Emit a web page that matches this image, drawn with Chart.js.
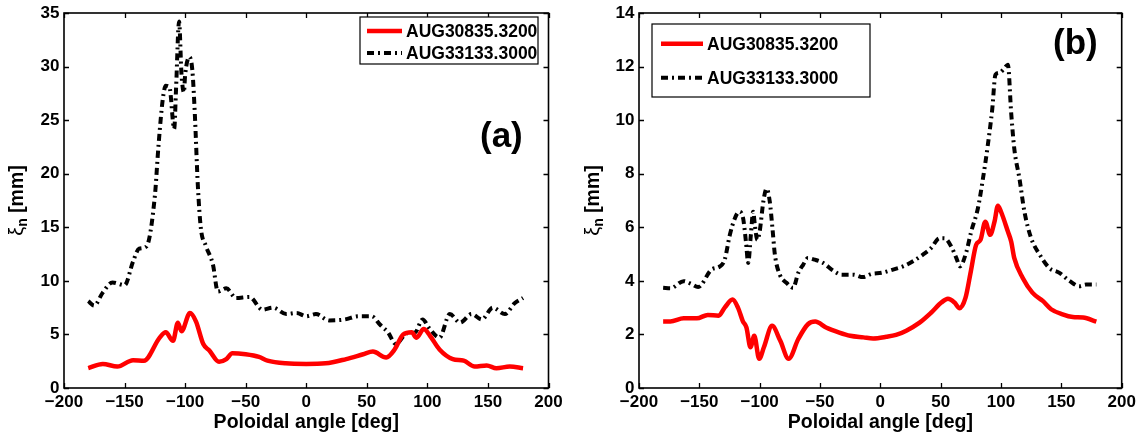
<!DOCTYPE html>
<html>
<head>
<meta charset="utf-8">
<script src="https://cdn.jsdelivr.net/npm/chart.js@4"></script>
<style>
  body { margin: 0; background: #fff; }
  .panel { position: absolute; top: 0; width: 572px; height: 439px; }
</style>
</head>
<body>
<div class="panel" style="left:0"><canvas id="chartA" width="572" height="439"></canvas></div>
<div class="panel" style="left:572px"><canvas id="chartB" width="572" height="439"></canvas></div>
<script>
// series names
const seriesNames = ['AUG30835.3200', 'AUG33133.3000'];

// panel (a)
const redA_x = [-180,-168,-156,-143,-134,-121,-116,-110,-106,-103,-96,-91,-85,-80,-72,-66,-61,-50,-39,-32,-17,0,16,33,47,55,66,73,80,87,91,97,102,110,121,130,139,149,157,168,179];
const redA_y = [1.85,2.25,2.0,2.6,2.55,4.7,5.2,4.4,6.1,5.3,7.0,6.2,4.1,3.5,2.45,2.7,3.25,3.15,2.9,2.55,2.3,2.25,2.3,2.7,3.15,3.4,2.85,3.6,5.0,5.2,4.7,5.5,4.9,3.6,2.7,2.55,2.0,2.1,1.85,2.0,1.85];
const blackA_x = [-180,-175,-168,-160,-150,-143,-138,-132,-125,-122,-118.5,-116,-113,-109,-107.5,-105,-103,-101,-100,-96.5,-94,-92,-89.5,-87,-83,-77,-73,-66,-58,-47,-36,-27.5,-16.5,-8,0,8,19,32,43,54,61,67.5,74,83,90,96,102,110,118.5,127,136.5,145,154,164,172,179];
const blackA_y = [8.1,7.7,8.9,9.85,9.6,11.8,13.0,13.2,17.9,22.6,26.9,28.2,28.1,24.2,27.9,34.2,29.3,27.6,29.2,30.9,29.6,25.6,18.9,14.9,13.3,11.5,9.0,9.3,8.4,8.5,7.3,7.5,6.9,7.0,6.7,6.9,6.3,6.4,6.7,6.7,5.9,5.2,4.1,5.1,5.2,6.4,5.5,4.7,6.9,6.1,6.9,6.4,7.5,6.9,7.9,8.4];

// panel (b)
const redB_x = [-180,-174,-163,-152,-143,-134,-129,-122.5,-118,-114,-111,-107.6,-104.5,-100.4,-96.5,-89.7,-83,-76,-68,-60,-54,-45,-34,-25,-14,-6,5,13,21.5,32.5,42,50.5,56,61.5,65.7,70.6,75,79.4,83,87,91,94.6,97.4,100,105.7,108.4,111,118,126,134.6,141.5,151,159.5,168,179];
const redB_y = [2.48,2.48,2.6,2.6,2.73,2.7,3.0,3.3,3.0,2.5,2.26,1.52,1.95,1.09,1.52,2.32,1.77,1.09,1.83,2.38,2.48,2.26,2.07,1.95,1.89,1.85,1.91,1.98,2.14,2.44,2.81,3.19,3.33,3.19,2.98,3.37,4.36,5.35,5.53,6.21,5.72,6.21,6.8,6.58,5.84,5.47,4.85,4.11,3.56,3.25,2.94,2.75,2.65,2.63,2.48];
const blackB_x = [-180,-174,-163,-157,-151,-140,-133,-129,-124.7,-120.6,-117,-113.7,-111.4,-109.5,-107.3,-105.4,-104,-102,-100,-97,-94.3,-91.6,-89.4,-87.4,-83.3,-77.8,-72.3,-68,-64,-60,-54.3,-47.4,-39,-32,-22.6,-14.3,-7.4,1,10.5,18.8,27,35.3,42,49,53,58.8,63,66,71,75.3,80.8,85,89,92.7,95.4,98.8,103,105.7,108.4,111,115.3,119.4,125,132,140,148.4,157,165,170.5,179];
const blackB_y = [3.74,3.72,3.99,3.89,3.77,4.42,4.54,4.79,5.72,6.33,6.58,6.33,5.47,4.67,5.72,6.58,6.09,5.53,5.84,6.95,7.44,6.95,5.96,4.98,4.23,3.93,3.74,4.3,4.6,4.85,4.79,4.67,4.38,4.23,4.23,4.14,4.26,4.3,4.42,4.54,4.73,4.98,5.22,5.59,5.59,5.28,4.85,4.54,5.04,5.84,6.7,7.81,9.05,10.4,11.7,11.77,11.95,12.07,10.28,8.93,7.81,6.58,5.59,4.98,4.48,4.3,3.99,3.8,3.86,3.86];

const FONT = "'Liberation Sans', Arial, Helvetica, sans-serif";

function pts(xs, ys) {
    return xs.map((x, i) => ({ x: x, y: ys[i] }));
}

function minus(v) {
    return String(v).replace('-', '\u2212');
}

// axes box with inward ticks on all four sides (matlab look)
const framePlugin = {
    id: 'frame',
    afterDatasetsDraw(chart) {
        const { ctx, chartArea: a, scales } = chart;
        const tl = 5;
        ctx.save();
        ctx.strokeStyle = '#000';
        ctx.lineWidth = 1.3;
        ctx.beginPath();
        scales.x.ticks.forEach(t => {
            const px = Math.round(scales.x.getPixelForValue(t.value)) + 0.5;
            ctx.moveTo(px, a.bottom); ctx.lineTo(px, a.bottom - tl);
            ctx.moveTo(px, a.top); ctx.lineTo(px, a.top + tl);
        });
        scales.y.ticks.forEach(t => {
            const py = Math.round(scales.y.getPixelForValue(t.value)) + 0.5;
            ctx.moveTo(a.left, py); ctx.lineTo(a.left + tl, py);
            ctx.moveTo(a.right, py); ctx.lineTo(a.right - tl, py);
        });
        ctx.stroke();
        ctx.lineWidth = 1.6;
        ctx.strokeRect(a.left, a.top, a.right - a.left, a.bottom - a.top);
        ctx.restore();
    }
};

// y title with a real subscript: xi_n [mm]
const yTitle = {
    id: 'yTitle',
    afterDraw(chart, args, o) {
        const ctx = chart.ctx;
        const a = chart.chartArea;
        ctx.save();
        ctx.translate(o.x, (a.top + a.bottom) / 2);
        ctx.rotate(-Math.PI / 2);
        ctx.fillStyle = '#000';
        ctx.textBaseline = 'alphabetic';
        const big = 'bold 19.5px ' + FONT;
        const xiFont = '20px ' + FONT;
        const subFont = 'bold 14px ' + FONT;
        ctx.font = xiFont; const w1 = ctx.measureText('ξ').width;
        ctx.font = subFont; const w2 = ctx.measureText('n').width;
        ctx.font = big; const w3 = ctx.measureText(' [mm]').width;
        let cx = -(w1 + w2 + w3) / 2;
        const base = 7;
        ctx.font = xiFont; ctx.fillText('ξ', cx, base); cx += w1;
        ctx.font = subFont; ctx.fillText('n', cx, base + 4); cx += w2;
        ctx.font = big; ctx.fillText(' [mm]', cx, base);
        ctx.restore();
    }
};

// legend box drawn inside the axes + panel tag
const boxLegend = {
    id: 'boxLegend',
    afterDraw(chart, args, o) {
        const ctx = chart.ctx;
        ctx.save();
        ctx.fillStyle = '#fff';
        ctx.fillRect(o.x, o.y, o.w, o.h);
        ctx.strokeStyle = '#000';
        ctx.lineWidth = 1.2;
        ctx.strokeRect(o.x, o.y, o.w, o.h);
        ctx.font = 'bold 17.5px ' + FONT;
        ctx.textBaseline = 'middle';
        chart.data.datasets.forEach((ds, i) => {
            const ry = o.rows[i];
            ctx.beginPath();
            ctx.strokeStyle = ds.borderColor;
            ctx.lineWidth = ds.borderWidth;
            ctx.setLineDash(ds.borderDash || []);
            ctx.moveTo(o.lineX[0], ry);
            ctx.lineTo(o.lineX[1], ry);
            ctx.stroke();
            ctx.setLineDash([]);
            ctx.fillStyle = '#000';
            ctx.fillText(ds.label, o.textX, ry + 1);
        });
        ctx.font = 'bold 35px ' + FONT;
        ctx.textBaseline = 'alphabetic';
        ctx.fillText(o.tag, o.tagX, o.tagY);
        ctx.restore();
    }
};

function makeChart(id, redX, redY, blackX, blackY, yMax, yStep, yW, rightPad, titleX, legendOpts) {
    const ctx = document.getElementById(id).getContext('2d');
    return new Chart(ctx, {
        type: 'line',
        data: {
            datasets: [{
                label: seriesNames[0],
                data: pts(redX, redY),
                borderColor: '#ff0000',
                borderWidth: 4.5,
                pointRadius: 0,
                cubicInterpolationMode: 'monotone',
            }, {
                label: seriesNames[1],
                data: pts(blackX, blackY),
                borderColor: '#000000',
                borderWidth: 4,
                borderDash: [7, 4, 2, 4],
                pointRadius: 0,
                cubicInterpolationMode: 'monotone',
            }]
        },
        options: {
            responsive: false,
            animation: false,
            layout: { padding: { top: 9.5, right: rightPad, bottom: 0, left: 0 } },
            plugins: {
                legend: { display: false },
                tooltip: { enabled: false },
                boxLegend: legendOpts,
                yTitle: { x: titleX }
            },
            scales: {
                x: {
                    type: 'linear',
                    min: -200,
                    max: 200,
                    grid: { display: false, drawTicks: false },
                    border: { display: false },
                    ticks: {
                        stepSize: 50,
                        color: '#000',
                        padding: 5.5,
                        maxRotation: 0,
                        font: { family: FONT, size: 17, weight: 'bold', lineHeight: 1 },
                        callback: v => minus(v)
                    },
                    title: {
                        display: true,
                        text: 'Poloidal angle [deg]',
                        color: '#000',
                        padding: { top: 0, bottom: 5 },
                        font: { family: FONT, size: 19.5, weight: 'bold' }
                    },
                    afterFit: s => { s.height = 51; }
                },
                y: {
                    min: 0,
                    max: yMax,
                    grid: { display: false, drawTicks: false },
                    border: { display: false },
                    ticks: {
                        stepSize: yStep,
                        color: '#000',
                        padding: 4.5,
                        font: { family: FONT, size: 17, weight: 'bold', lineHeight: 1 }
                    },
                    afterFit: s => { s.width = yW; }
                }
            }
        },
        plugins: [framePlugin, yTitle, boxLegend]
    });
}

makeChart('chartA', redA_x, redA_y, blackA_x, blackA_y, 35, 5, 64, 23.5, 15.5, {
    x: 360, y: 17, w: 178, h: 47,
    rows: [31, 53], lineX: [367, 402], textX: 406,
    tag: '(a)', tagX: 480, tagY: 147
});

makeChart('chartB', redB_x, redB_y, blackB_x, blackB_y, 14, 2, 67, 22.3, 20, {
    x: 80, y: 24, w: 218, h: 73,
    rows: [43.7, 77.7], lineX: [89, 131], textX: 135,
    tag: '(b)', tagX: 481, tagY: 54
});
</script>
</body>
</html>
